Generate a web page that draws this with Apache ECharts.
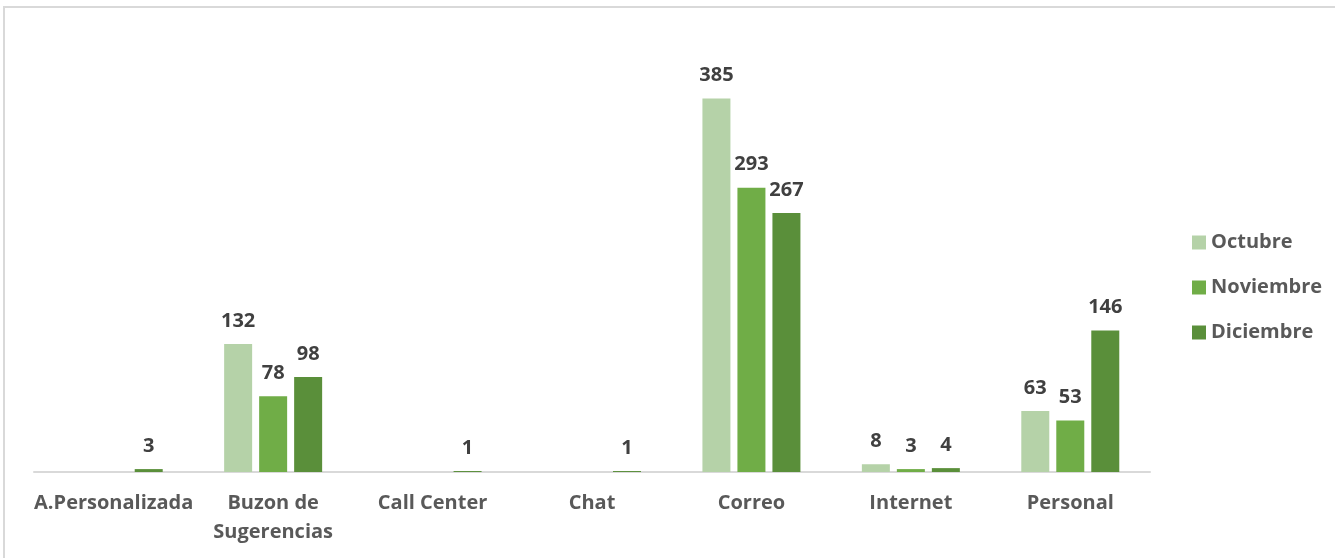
<!DOCTYPE html>
<html>
<head>
<meta charset="utf-8">
<script src="https://cdn.jsdelivr.net/npm/echarts@6/dist/echarts.min.js"></script>
<style>
    html, body { margin: 0; padding: 0; background: #fff; overflow: hidden; width: 1335px; height: 558px; }
    #frame { position: absolute; left: 3px; top: 6px; width: 1332px; height: 552px; border-left: 2px solid #d9d9d9; border-top: 2px solid #d9d9d9; box-sizing: border-box; }
    #chart { position: absolute; left: 0; top: 0; width: 1335px; height: 558px; }
</style>
</head>
<body>
<div id="frame"></div>
<div id="chart"></div>
<script>
    // datos por canal
    let canales = ['A.Personalizada', 'Buzon de\nSugerencias', 'Call Center', 'Chat', 'Correo', 'Internet', 'Personal'];
    let octubre = [null, 132, null, null, 385, 8, 63];
    let noviembre = [null, 78, null, null, 293, 3, 53];
    let diciembre = [3, 98, 1, 1, 267, 4, 146];

    let myChart = echarts.init(document.getElementById('chart'));

    let fuente = 'Open Sans';

    let etiqueta = {
        show: true,
        position: 'top',
        distance: 13,
        color: '#404040',
        fontFamily: fuente,
        fontWeight: 'bold',
        fontSize: 20
    };

    let option = {
        animation: false,
        legend: {
            orient: 'vertical',
            left: 1187,
            top: 225,
            itemWidth: 14,
            itemHeight: 14,
            itemGap: 20,
            icon: 'rect',
            textStyle: {
                color: '#595959',
                fontFamily: fuente,
                fontWeight: 'bold',
                fontSize: 20,
                lineHeight: 25
            },
            data: ['Octubre', 'Noviembre', 'Diciembre']
        },
        grid: {
            left: 34,
            right: 185,
            top: 84,
            bottom: 86
        },
        xAxis: {
            type: 'category',
            data: canales,
            axisLine: { lineStyle: { color: '#d9d9d9', width: 2 } },
            axisTick: { show: false },
            axisLabel: {
                color: '#595959',
                fontFamily: fuente,
                fontWeight: 'bold',
                fontSize: 20,
                margin: 17,
                lineHeight: 29,
                interval: 0
            }
        },
        yAxis: {
            type: 'value',
            min: 0,
            max: 400,
            show: false,
            splitLine: { show: false }
        },
        series: [
            {
                name: 'Octubre',
                type: 'bar',
                data: octubre,
                barWidth: 28,
                barGap: '25%',
                itemStyle: { color: '#b5d2a8' },
                label: etiqueta
            },
            {
                name: 'Noviembre',
                type: 'bar',
                data: noviembre,
                barWidth: 28,
                barGap: '25%',
                itemStyle: { color: '#70ad47' },
                label: etiqueta
            },
            {
                name: 'Diciembre',
                type: 'bar',
                data: diciembre,
                barWidth: 28,
                barGap: '25%',
                itemStyle: { color: '#5a8f3a' },
                label: etiqueta
            }
        ]
    };

    myChart.setOption(option);
</script>
</body>
</html>
